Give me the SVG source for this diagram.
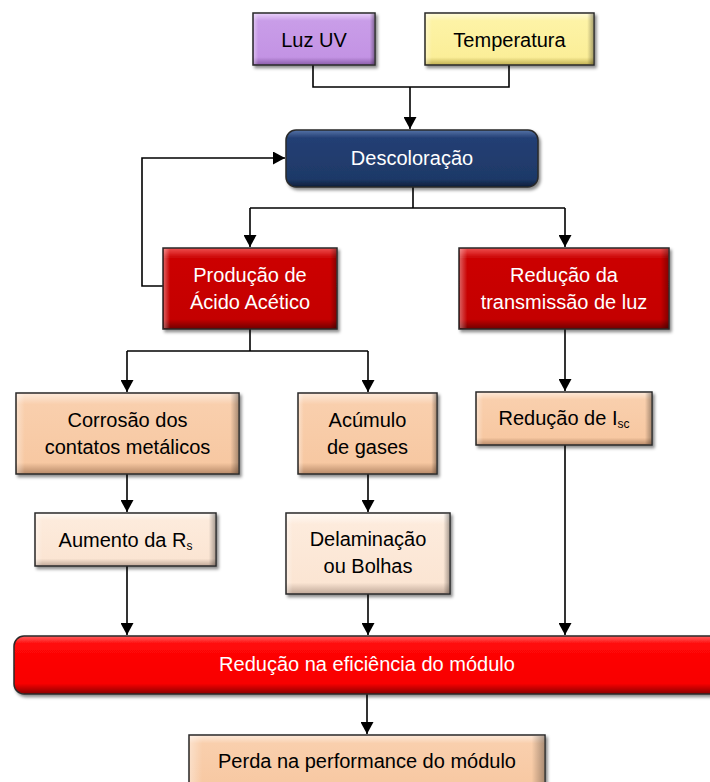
<svg xmlns="http://www.w3.org/2000/svg" width="710" height="782" viewBox="0 0 710 782">
<style>
  .t { font-family: "Liberation Sans", Arial, sans-serif; font-size: 20px; text-anchor: middle; fill: #000; }
  .w { fill: #fff; }
  .sub { font-size: 12px; }
  .frame { stroke: #2a2a2a; stroke-width: 1.5; }
  .bev { fill: url(#gSide); stroke: none; }
  .conn path { fill: none; stroke: #000; stroke-width: 1.6; }
  .arr { marker-end: url(#ah); }
</style>
<defs>
  <marker id="ah" markerUnits="userSpaceOnUse" markerWidth="12" markerHeight="13" refX="12" refY="6.5" orient="auto">
    <path d="M0,0 L12,6.5 L0,13 z" fill="#000"/>
  </marker>
  <filter id="sh" x="-10%" y="-10%" width="130%" height="140%">
    <feDropShadow dx="2" dy="2.5" stdDeviation="1.5" flood-color="#000" flood-opacity="0.45"/>
  </filter>
  <linearGradient id="gSide" x1="0" y1="0" x2="1" y2="0">
    <stop offset="0" stop-color="#fff" stop-opacity="0.35"/>
    <stop offset="0.035" stop-color="#fff" stop-opacity="0"/>
    <stop offset="0.965" stop-color="#000" stop-opacity="0"/>
    <stop offset="1" stop-color="#000" stop-opacity="0.3"/>
  </linearGradient>
  <linearGradient id="gPur" x1="0" y1="0" x2="0" y2="1"><stop offset="0" stop-color="#ead2fa"/><stop offset="0.15" stop-color="#c99de8"/><stop offset="0.85" stop-color="#c393e4"/><stop offset="1" stop-color="#8a5ca8"/></linearGradient>
  <linearGradient id="gYel" x1="0" y1="0" x2="0" y2="1"><stop offset="0" stop-color="#fffbdc"/><stop offset="0.15" stop-color="#fdf3a6"/><stop offset="0.85" stop-color="#fbee98"/><stop offset="1" stop-color="#bfae50"/></linearGradient>
  <linearGradient id="gNav" x1="0" y1="0" x2="0" y2="1"><stop offset="0" stop-color="#5574a8"/><stop offset="0.14" stop-color="#243f74"/><stop offset="0.86" stop-color="#1e3968"/><stop offset="1" stop-color="#0e1d3a"/></linearGradient>
  <linearGradient id="gRed" x1="0" y1="0" x2="0" y2="1"><stop offset="0" stop-color="#f05050"/><stop offset="0.12" stop-color="#cc0606"/><stop offset="0.88" stop-color="#c40000"/><stop offset="1" stop-color="#700000"/></linearGradient>
  <linearGradient id="gPea" x1="0" y1="0" x2="0" y2="1"><stop offset="0" stop-color="#fdeadb"/><stop offset="0.14" stop-color="#f9cfad"/><stop offset="0.86" stop-color="#f7c8a2"/><stop offset="1" stop-color="#b88a68"/></linearGradient>
  <linearGradient id="gLpe" x1="0" y1="0" x2="0" y2="1"><stop offset="0" stop-color="#fffaf5"/><stop offset="0.14" stop-color="#fdebdc"/><stop offset="0.86" stop-color="#fbe5d3"/><stop offset="1" stop-color="#c0a898"/></linearGradient>
  <linearGradient id="gBar" x1="0" y1="0" x2="0" y2="1"><stop offset="0" stop-color="#ff6060"/><stop offset="0.14" stop-color="#ff0808"/><stop offset="0.82" stop-color="#f80000"/><stop offset="1" stop-color="#8a0000"/></linearGradient>
</defs>

<g id="connectors" class="conn">
  <path d="M313 65 V87 H509 V65"/>
  <path class="arr" d="M410 87 V129"/>
  <path d="M413 187 V208"/>
  <path d="M250 208 H565"/>
  <path class="arr" d="M250 208 V247"/>
  <path class="arr" d="M565 208 V247"/>
  <path class="arr" d="M163 286 H142 V158 H285"/>
  <path d="M250 329 V351"/>
  <path d="M127 351 H368"/>
  <path class="arr" d="M127 351 V392"/>
  <path class="arr" d="M368 351 V392"/>
  <path class="arr" d="M565 329 V391"/>
  <path class="arr" d="M127 474 V512"/>
  <path class="arr" d="M368 474 V512"/>
  <path class="arr" d="M127 566 V635"/>
  <path class="arr" d="M368 594 V635"/>
  <path class="arr" d="M565 445 V635"/>
  <path class="arr" d="M367 694 V734"/>
</g>

<g id="luz-uv">
  <rect class="frame" x="253" y="13" width="122" height="52" fill="url(#gPur)" filter="url(#sh)"/>
  <rect class="bev" x="254" y="14" width="120" height="50"/>
  <text class="t" x="314" y="47">Luz UV</text>
</g>
<g id="temperatura">
  <rect class="frame" x="425" y="13" width="169" height="52" fill="url(#gYel)" filter="url(#sh)"/>
  <rect class="bev" x="426" y="14" width="167" height="50"/>
  <text class="t" x="509.5" y="47">Temperatura</text>
</g>
<g id="descoloracao">
  <rect class="frame" x="286" y="130" width="252" height="57" rx="10" fill="url(#gNav)" filter="url(#sh)"/>
  <text class="t w" x="412" y="165">Descoloração</text>
</g>
<g id="producao-acido">
  <rect class="frame" x="163" y="248" width="174" height="81" fill="url(#gRed)" filter="url(#sh)"/>
  <rect class="bev" x="164" y="249" width="172" height="79"/>
  <text class="t w" x="250" y="282">Produção de</text>
  <text class="t w" x="250" y="309">Ácido Acético</text>
</g>
<g id="reducao-transmissao">
  <rect class="frame" x="459" y="248" width="210" height="81" fill="url(#gRed)" filter="url(#sh)"/>
  <rect class="bev" x="460" y="249" width="208" height="79"/>
  <text class="t w" x="564" y="282">Redução da</text>
  <text class="t w" x="564" y="309">transmissão de luz</text>
</g>
<g id="corrosao">
  <rect class="frame" x="16" y="393" width="223" height="81" fill="url(#gPea)" filter="url(#sh)"/>
  <rect class="bev" x="17" y="394" width="221" height="79"/>
  <text class="t" x="127.5" y="427">Corrosão dos</text>
  <text class="t" x="127.5" y="454">contatos metálicos</text>
</g>
<g id="acumulo">
  <rect class="frame" x="298" y="393" width="139" height="81" fill="url(#gPea)" filter="url(#sh)"/>
  <rect class="bev" x="299" y="394" width="137" height="79"/>
  <text class="t" x="367.5" y="427">Acúmulo</text>
  <text class="t" x="367.5" y="454">de gases</text>
</g>
<g id="reducao-isc">
  <rect class="frame" x="476" y="392" width="176" height="53" fill="url(#gPea)" filter="url(#sh)"/>
  <rect class="bev" x="477" y="393" width="174" height="51"/>
  <text class="t" x="564" y="425">Redução de I<tspan class="sub" dy="3">sc</tspan></text>
</g>
<g id="aumento-rs">
  <rect class="frame" x="35" y="513" width="181" height="53" fill="url(#gLpe)" filter="url(#sh)"/>
  <rect class="bev" x="36" y="514" width="179" height="51"/>
  <text class="t" x="125.5" y="547">Aumento da R<tspan class="sub" dy="3">s</tspan></text>
</g>
<g id="delaminacao">
  <rect class="frame" x="286" y="513" width="164" height="81" fill="url(#gLpe)" filter="url(#sh)"/>
  <rect class="bev" x="287" y="514" width="162" height="79"/>
  <text class="t" x="368" y="546">Delaminação</text>
  <text class="t" x="368" y="573">ou Bolhas</text>
</g>
<g id="reducao-eficiencia">
  <rect class="frame" x="14" y="636" width="720" height="58" rx="10" fill="url(#gBar)" filter="url(#sh)"/>
  <text class="t w" x="367" y="671">Redução na eficiência do módulo</text>
</g>
<g id="perda-performance">
  <rect class="frame" x="189" y="735" width="356" height="60" fill="url(#gPea)" filter="url(#sh)"/>
  <rect class="bev" x="190" y="736" width="354" height="58"/>
  <text class="t" x="367" y="768">Perda na performance do módulo</text>
</g>
</svg>
